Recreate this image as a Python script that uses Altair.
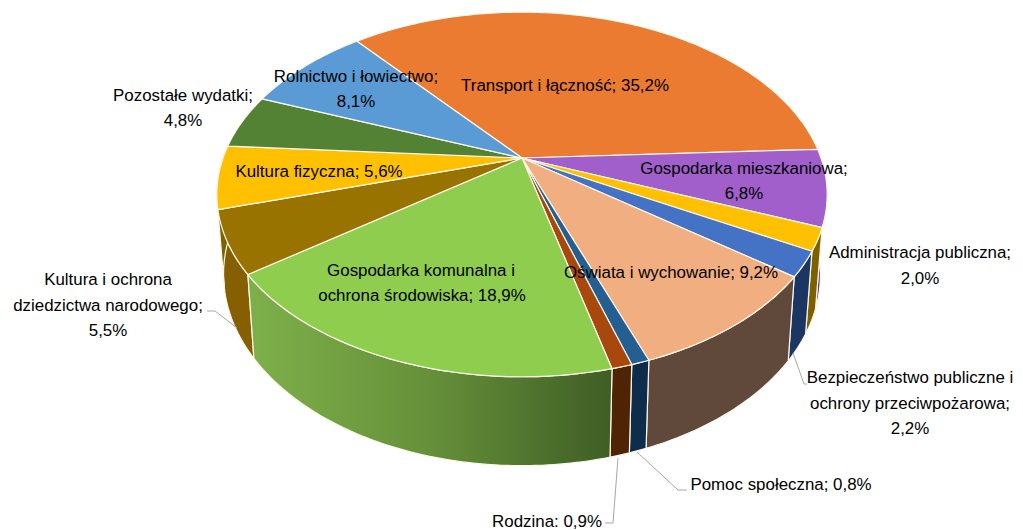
import math
import altair as alt

names = ["Transport i łączność", "Gospodarka mieszkaniowa", "Administracja publiczna",
         "Bezpieczeństwo publiczne", "Oświata i wychowanie", "Pomoc społeczna", "Rodzina",
         "Gospodarka komunalna", "Kultura i ochrona", "Kultura fizyczna",
         "Pozostałe wydatki", "Rolnictwo i łowiectwo"]
shares = [35.2, 6.8, 2.0, 2.2, 9.2, 0.8, 0.9, 18.9, 5.5, 5.6, 4.8, 8.1]
top_colors = ["#EA7B30", "#A05FCB", "#FFC000", "#4472C4", "#F1AE80", "#255E91", "#A9480C",
              "#8FCD4E", "#997300", "#FFC000", "#548235", "#5B9BD5"]
wall_colors = ["#7F4318", "#5E3A78", "#7F6000", "#1B3663", "#60483A", "#0E2C4B", "#4F2405",
               "#6A963C", "#866000", "#7F6000", "#2F4A1E", "#2F5578"]

label_lines = [
    ("Transport i łączność; 35,2%", 565, 86),
    ("Rolnictwo i łowiectwo;", 356, 77), ("8,1%", 356, 102),
    ("Pozostałe wydatki;", 183, 96), ("4,8%", 183, 121),
    ("Kultura fizyczna; 5,6%", 319, 172),
    ("Gospodarka mieszkaniowa;", 744, 169), ("6,8%", 744, 194),
    ("Administracja publiczna;", 920, 253), ("2,0%", 920, 279),
    ("Oświata i wychowanie; 9,2%", 671, 273),
    ("Gospodarka komunalna i", 421, 271), ("ochrona środowiska; 18,9%", 422, 296),
    ("Kultura i ochrona", 108, 280), ("dziedzictwa narodowego;", 108, 306), ("5,5%", 108, 331),
    ("Bezpieczeństwo publiczne i", 910, 378), ("ochrony przeciwpożarowa;", 910, 404), ("2,2%", 910, 429),
    ("Pomoc społeczna; 0,8%", 781, 485),
    ("Rodzina: 0,9%", 547, 522),
]
leaders = {
    "kultura": [(207, 311), (215, 311), (237, 328)],
    "bezp": [(793, 353), (804, 384), (807, 384)],
    "pomoc": [(637, 452), (678, 490), (687, 490)],
    "rodzina": [(618, 458), (613, 523), (605, 523)],
}

M = 8  # page margin
CX, CY, A, B, K = 522, 158, 299, 175, 0.2
START = -129.6
FX, FY, CYB = 0.978, 1.05, 236


def top(deg):
    t = math.radians(deg)
    d = 1 - K * math.sin(t)
    return A * math.cos(t) / d, B * math.sin(t) / d


def top_pt(deg):
    x, y = top(deg)
    return [CX + x - M, CY + y - M]


def bot_pt(deg):
    x, y = top(deg)
    return [CX + x * FX - M, CYB + y * FY - M]


def feature(ring, name, color):
    ring = ring + [ring[0]]
    return {"type": "Feature", "geometry": {"type": "Polygon", "coordinates": [ring]},
            "properties": {"name": name, "color": color}}


tops, walls = [], []
a0 = START
for name, share, tc, wc in zip(names, shares, top_colors, wall_colors):
    a1 = a0 + share * 3.6
    n = max(3, int(share * 4))
    arc = [a0 + (a1 - a0) * i / n for i in range(n + 1)]
    tops.append(feature([[CX - M, CY - M]] + [top_pt(a) for a in arc], name, tc))
    if math.sin(math.radians((a0 + a1) / 2)) > -0.15:
        walls.append(feature([top_pt(a) for a in arc] + [bot_pt(a) for a in reversed(arc)], name, wc))
    a0 = a1

proj = alt.Projection(type="identity", scale=1, translate=[0, 0])
edge = dict(stroke="#FBF7EA", strokeWidth=1.2, strokeJoin="round")


def shapes(feats, **mark):
    return alt.Chart(alt.Data(values=feats)).mark_geoshape(**mark).encode(
        fill=alt.Fill("properties.color:N", scale=None)).project(**proj.to_dict())


green_wall = [f for f in walls if f["properties"]["name"] == "Gospodarka komunalna"]
other_walls = [f for f in walls if f["properties"]["name"] != "Gospodarka komunalna"]

wall_layer = shapes(other_walls, **edge)
gradient = alt.Gradient(gradient="linear", x1=0, x2=1, y1=0, y2=0, stops=[
    alt.GradientStop(offset=0, color="#7DB04A"),
    alt.GradientStop(offset=0.5, color="#66903A"),
    alt.GradientStop(offset=1, color="#3F5E25"),
])
green_layer = alt.Chart(alt.Data(values=green_wall)).mark_geoshape(fill=gradient, **edge).project(**proj.to_dict())
top_layer = shapes(tops, **edge)

leader_rows = [{"k": k, "i": i, "x": x - M, "y": y - M}
               for k, pts in leaders.items() for i, (x, y) in enumerate(pts)]
leader_layer = alt.Chart(alt.Data(values=leader_rows)).mark_line(color="#A6A6A6", strokeWidth=1).encode(
    x=alt.X("x:Q", scale=None, axis=None), y=alt.Y("y:Q", scale=None, axis=None),
    detail="k:N", order="i:Q")

text_rows = [{"t": t, "x": x - M, "y": y - M} for t, x, y in label_lines]
text_layer = alt.Chart(alt.Data(values=text_rows)).mark_text(
    font="Liberation Sans", fontSize=16.9, color="#000000", align="center", baseline="middle").encode(
    x=alt.X("x:Q", scale=None, axis=None), y=alt.Y("y:Q", scale=None, axis=None), text="t:N")

chart = alt.layer(wall_layer, green_layer, top_layer, leader_layer, text_layer).properties(
    width=1007, height=522, padding=0, autosize=alt.AutoSizeParams(type="none")
).configure_view(stroke=None)

chart.save("out.html", embed_options={"renderer": "svg", "actions": False})
